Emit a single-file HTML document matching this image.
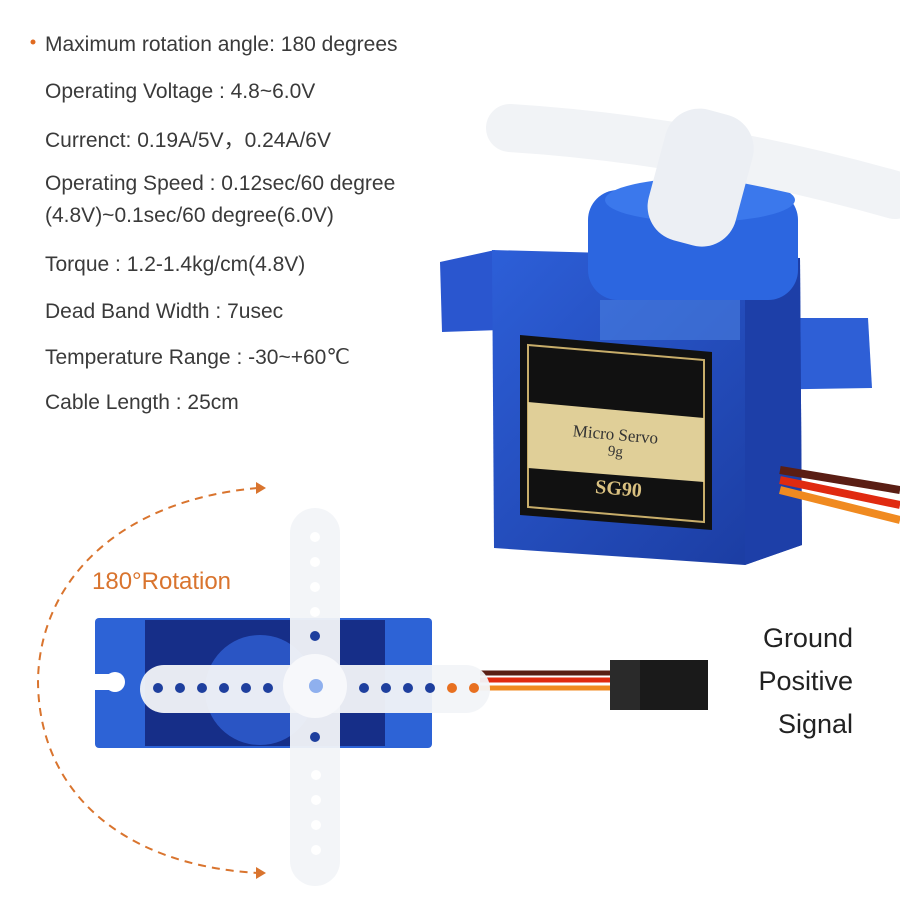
<!DOCTYPE html>
<html><head><meta charset="utf-8"><style>
body{margin:0;background:#fff;width:900px;height:900px;overflow:hidden;font-family:"Liberation Sans",sans-serif}
.t{position:absolute;left:45px;font-size:21px;color:#3a3a3a;white-space:nowrap}
.r{position:absolute;right:47px;font-size:27px;color:#222;text-align:right}
</style></head><body>
<svg width="900" height="900" style="position:absolute;left:0;top:0">
<defs>
<linearGradient id="bl" x1="0" y1="0" x2="1" y2="1"><stop offset="0" stop-color="#2d5fd8"/><stop offset="1" stop-color="#1a3a9e"/></linearGradient>
</defs>
<circle cx="33" cy="42" r="2.5" fill="#e06a20"/>
<polygon points="440,262 495,250 500,330 442,332" fill="#2a56cf"/>
<polygon points="745,318 868,318 872,388 748,390" fill="#2e5fd6"/>
<polygon points="492,250 800,258 802,545 745,565 494,548" fill="url(#bl)"/>
<polygon points="745,262 800,258 802,545 745,565" fill="#1d3fa8"/>
<rect x="588" y="190" width="210" height="110" rx="30" fill="#2c66e0"/>
<ellipse cx="700" cy="200" rx="95" ry="22" fill="#3b78ec"/>
<rect x="600" y="300" width="140" height="40" fill="#4a7fe0" opacity=".6"/>
<polygon points="520,335 712,352 712,530 520,515" fill="#111"/>
<polygon points="528,345 704,360 704,522 528,507" fill="none" stroke="#c9ae6a" stroke-width="2"/>
<polygon points="528,402 704,418 704,482 528,468" fill="#e0cf98"/>
<text x="615" y="440" font-family="Liberation Serif" font-size="17" fill="#333" text-anchor="middle" transform="rotate(5 615 440)">Micro Servo</text>
<text x="615" y="456" font-family="Liberation Serif" font-size="15" fill="#333" text-anchor="middle" transform="rotate(5 615 456)">9g</text>
<text x="618" y="495" font-family="Liberation Serif" font-weight="bold" font-size="20" fill="#d9c080" text-anchor="middle" transform="rotate(5 618 495)">SG90</text>
<path d="M780 470 L900 490" stroke="#5a1e14" stroke-width="8"/>
<path d="M780 480 L900 505" stroke="#e02a10" stroke-width="8"/>
<path d="M780 490 L900 520" stroke="#f08a20" stroke-width="8"/>
<path d="M510 128 Q700 140 895 195" stroke="#f1f3f6" stroke-width="48" stroke-linecap="round" fill="none"/>
<rect x="655" y="110" width="90" height="135" rx="35" fill="#eceff4" transform="rotate(15 700 180)"/>
<path d="M258,488 C120,500 40,580 38,680 C38,790 120,865 258,873" fill="none" stroke="#d9742e" stroke-width="2" stroke-dasharray="8,6"/>
<polygon points="256,482 266,488 256,494" fill="#d9742e"/>
<polygon points="256,867 266,873 256,879" fill="#d9742e"/>
<rect x="95" y="618" width="337" height="130" rx="4" fill="#2d63d6"/>
<rect x="145" y="620" width="240" height="126" fill="#162e88"/>
<circle cx="260" cy="690" r="55" fill="#2a55c4"/>
<circle cx="115" cy="682" r="10" fill="#fff"/>
<rect x="95" y="674" width="22" height="16" fill="#fff"/>
<path d="M480 673 L610 673" stroke="#5a1e14" stroke-width="5"/>
<path d="M480 680 L610 680" stroke="#e02a10" stroke-width="5"/>
<path d="M480 688 L610 688" stroke="#f08a20" stroke-width="5"/>
<rect x="610" y="660" width="98" height="50" fill="#1a1a1a"/>
<rect x="610" y="660" width="30" height="50" fill="#2a2a2a"/>
<rect x="290" y="508" width="50" height="378" rx="25" fill="#f2f4f8" opacity=".95"/>
<rect x="140" y="665" width="350" height="48" rx="24" fill="#f2f4f8" opacity=".95"/>
<circle cx="315" cy="686" r="32" fill="#f7f8fb"/>
<circle cx="316" cy="686" r="7" fill="#8fb0ee"/>
<g fill="#1e3f9e">
<circle cx="158" cy="688" r="5"/><circle cx="180" cy="688" r="5"/><circle cx="202" cy="688" r="5"/><circle cx="224" cy="688" r="5"/><circle cx="246" cy="688" r="5"/><circle cx="268" cy="688" r="5"/>
<circle cx="364" cy="688" r="5"/><circle cx="386" cy="688" r="5"/><circle cx="408" cy="688" r="5"/><circle cx="430" cy="688" r="5"/>
<circle cx="315" cy="636" r="5"/><circle cx="315" cy="737" r="5"/>
</g>
<circle cx="452" cy="688" r="5" fill="#e87020"/><circle cx="474" cy="688" r="5" fill="#e87020"/>
<g fill="#fff">
<circle cx="315" cy="537" r="5"/><circle cx="315" cy="562" r="5"/><circle cx="315" cy="587" r="5"/><circle cx="315" cy="612" r="5"/>
<circle cx="316" cy="775" r="5"/><circle cx="316" cy="800" r="5"/><circle cx="316" cy="825" r="5"/><circle cx="316" cy="850" r="5"/>
</g>
</svg>
<div class="t" style="top:33px">Maximum rotation angle: 180 degrees</div>
<div class="t" style="top:80px">Operating Voltage : 4.8~6.0V</div>
<div class="t" style="top:124px">Currenct: 0.19A/5V，0.24A/6V</div>
<div class="t" style="top:172px">Operating Speed : 0.12sec/60 degree</div>
<div class="t" style="top:204px">(4.8V)~0.1sec/60 degree(6.0V)</div>
<div class="t" style="top:253px">Torque : 1.2-1.4kg/cm(4.8V)</div>
<div class="t" style="top:300px">Dead Band Width : 7usec</div>
<div class="t" style="top:345px">Temperature Range : -30~+60℃</div>
<div class="t" style="top:391px">Cable Length : 25cm</div>
<div style="position:absolute;left:92px;top:568px;font-size:24px;color:#d9742e">180°Rotation</div>
<div class="r" style="top:623px">Ground</div>
<div class="r" style="top:666px">Positive</div>
<div class="r" style="top:709px">Signal</div>
</body></html>
